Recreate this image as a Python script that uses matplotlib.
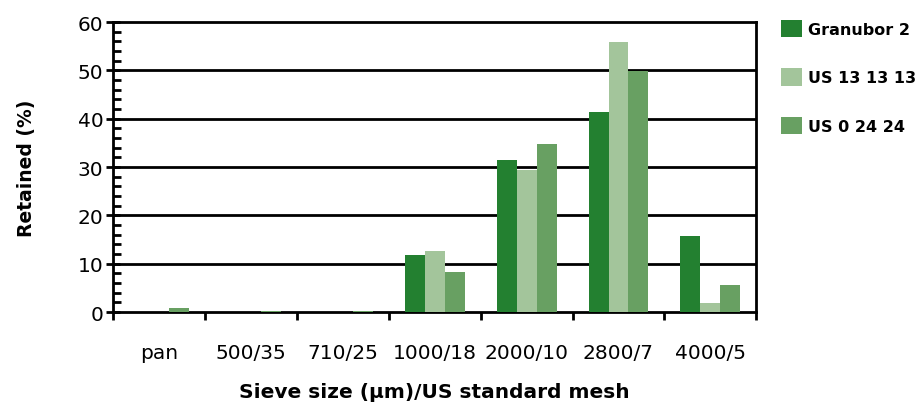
import numpy as np
import matplotlib.pyplot as plt
from matplotlib.ticker import MultipleLocator, FixedLocator, NullFormatter

plt.rcParams['font.family'] = ['DejaVu Sans']

categories = ['pan', '500/35', '710/25', '1000/18', '2000/10', '2800/7', '4000/5']
granubor = [0, 0, 0, 11.8, 31.5, 41.4, 15.8]
us_13 = [0, 0, 0, 12.7, 29.3, 55.8, 1.9]
us_0 = [0.8, 0.3, 0.3, 8.3, 34.8, 49.9, 5.6]

series = [('Granubor 2', granubor, '#238030'),
          ('US 13 13 13', us_13, '#a3c59b'),
          ('US 0 24 24', us_0, '#68a062')]

fig = plt.figure(figsize=(9.19, 4.06), dpi=100)
ax = fig.add_axes([0.123, 0.229, 0.7, 0.714])

x = np.arange(len(categories))
w = 0.217
for i, (name, vals, col) in enumerate(series):
    ax.bar(x + (i - 1) * w, vals, width=w, color=col, label=name, zorder=3)

ax.set_xlim(-0.5, len(categories) - 0.5)
ax.set_ylim(0, 60)

# gridlines
for yy in range(10, 60, 10):
    ax.axhline(yy, color='black', lw=2, zorder=1)

for s in ax.spines.values():
    s.set_linewidth(2)
    s.set_color('black')

ax.yaxis.set_major_locator(MultipleLocator(10))
ax.yaxis.set_minor_locator(MultipleLocator(2))
ax.tick_params(axis='y', which='major', direction='inout', length=10, width=2,
               labelsize=14.5, pad=2)
ax.tick_params(axis='y', which='minor', direction='in', length=6, width=2)

ax.xaxis.set_major_locator(FixedLocator(np.arange(len(categories) + 1) - 0.5))
ax.xaxis.set_major_formatter(NullFormatter())
ax.xaxis.set_minor_locator(FixedLocator(x))
ax.set_xticklabels(categories, minor=True)
ax.tick_params(axis='x', which='major', direction='out', length=6, width=2)
ax.tick_params(axis='x', which='minor', length=0, labelsize=14.5, pad=22)

ax.set_ylabel('Retained (%)', fontsize=13.5, fontweight='bold', labelpad=30)
ax.set_xlabel('Sieve size (µm)/US standard mesh', fontsize=14.5, fontweight='bold',
              labelpad=15)

ax.legend(loc='upper left', bbox_to_anchor=(1.028, 1.03), frameon=False,
          prop={'size': 11.5, 'weight': 'bold'}, handlelength=1.3,
          handleheight=1.3, labelspacing=1.95, handletextpad=0.4,
          borderaxespad=0)

fig.savefig('out.png', dpi=100)
